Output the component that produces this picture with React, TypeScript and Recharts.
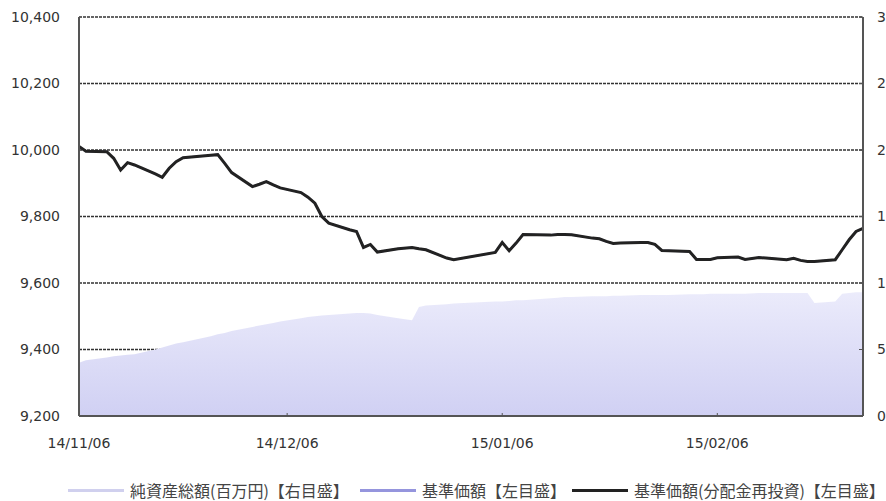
import * as React from "react";
import { ComposedChart, Area, Line, XAxis, YAxis, CartesianGrid, Legend } from "recharts";

// Business days covered by the chart
const dates = [
  "2014-11-06", "2014-11-07", "2014-11-10", "2014-11-11", "2014-11-12", "2014-11-13", "2014-11-14",
  "2014-11-17", "2014-11-18", "2014-11-19", "2014-11-20", "2014-11-21", "2014-11-25", "2014-11-26",
  "2014-11-27", "2014-11-28",
  "2014-12-01", "2014-12-02", "2014-12-03", "2014-12-04", "2014-12-05", "2014-12-08", "2014-12-09",
  "2014-12-10", "2014-12-11", "2014-12-12", "2014-12-15", "2014-12-16", "2014-12-17", "2014-12-18",
  "2014-12-19", "2014-12-22", "2014-12-24", "2014-12-25", "2014-12-26", "2014-12-29", "2014-12-30",
  "2015-01-05", "2015-01-06", "2015-01-07", "2015-01-08", "2015-01-09", "2015-01-13", "2015-01-14",
  "2015-01-15", "2015-01-16", "2015-01-19", "2015-01-20", "2015-01-21", "2015-01-22", "2015-01-23",
  "2015-01-26", "2015-01-27", "2015-01-28", "2015-01-29", "2015-01-30",
  "2015-02-02", "2015-02-03", "2015-02-04", "2015-02-05", "2015-02-06", "2015-02-09", "2015-02-10",
  "2015-02-12", "2015-02-13", "2015-02-16", "2015-02-17", "2015-02-18", "2015-02-19", "2015-02-20",
  "2015-02-23", "2015-02-24", "2015-02-25", "2015-02-26", "2015-02-27",
];

// 純資産総額 (百万円), right scale
const netAssets = [
  40, 42, 44, 45, 45.5, 46, 46.5, 50, 51.5, 53, 54.5, 55.5, 60, 61.5, 62.5, 64,
  67, 68, 69, 70, 71, 73.5, 74.5, 75, 75.5, 76, 77, 77.5, 77.5, 77, 76, 73.5, 72, 82, 83, 84, 84.5,
  86, 86, 86.5, 87, 87, 88.5, 89, 89.5, 89.5, 90, 90, 90, 90.5, 90.5, 91, 91, 91, 91, 91,
  91.5, 91.5, 91.5, 92, 92, 92, 92, 92.5, 92.5, 92.5, 92.5, 92.5, 92.5, 85, 86, 92, 92.5, 93, 93,
];

// 基準価額 (円), left scale
const nav = [
  10011, 9996, 9995, 9975, 9940, 9962, 9955, 9928, 9918, 9945, 9965, 9977, 9984, 9986, 9960, 9932,
  9890, 9897, 9905, 9895, 9886, 9872, 9858, 9840, 9800, 9780, 9760, 9755, 9707, 9716, 9693, 9703,
  9707, 9703, 9700, 9675, 9670,
  9692, 9722, 9697, 9720, 9746, 9744, 9746, 9746, 9745, 9735, 9733, 9725, 9719, 9720, 9722, 9722,
  9716, 9698, 9697,
  9695, 9671, 9671, 9671, 9676, 9678, 9671, 9677, 9675, 9670, 9674, 9668, 9665, 9665, 9670, 9700,
  9730, 9755, 9764,
];

// no distributions in the period, so the reinvested NAV equals the NAV
const navReinvested = [...nav];

const tickDates = ["2014-11-06", "2014-12-06", "2015-01-06", "2015-02-06"];
const tickLabels = ["14/11/06", "14/12/06", "15/01/06", "15/02/06"];
const leftTicks = [9200, 9400, 9600, 9800, 10000, 10200, 10400];
const rightTicks = [0, 50, 100, 150, 200, 250, 300];

const seriesNames = ["純資産総額(百万円)【右目盛】", "基準価額【左目盛】", "基準価額(分配金再投資)【左目盛】"];

const DAY = 86400000;
const start = Date.parse(dates[0]);
const toDay = (d: string) => Math.round((Date.parse(d) - start) / DAY);
const endDay = toDay(dates[dates.length - 1]);

const data = dates.map((d, i) => ({
  day: toDay(d),
  netAssets: netAssets[i],
  nav: nav[i],
  navReinvested: navReinvested[i],
}));

const tickDays = tickDates.map(toDay);

const legendItems = [
  { name: seriesNames[0], color: "#d0d0ee", left: 68 },
  { name: seriesNames[1], color: "#9595dd", left: 360 },
  { name: seriesNames[2], color: "#222222", left: 572 },
];

const tickFont = { fontSize: 14, fill: "#333", fontFamily: "DejaVu Sans" };

const ChartLegend = () => (
  <div style={{ position: "relative", height: 22, fontFamily: "'Noto Sans CJK JP'", fontSize: 16, color: "#444" }}>
    {legendItems.map((it) => (
      <div key={it.name} style={{ position: "absolute", left: it.left, top: 0, display: "flex", alignItems: "center", height: 22 }}>
        <div style={{ width: 56, height: 3, background: it.color, marginRight: 6 }} />
        <span style={{ whiteSpace: "nowrap" }}>{it.name}</span>
      </div>
    ))}
  </div>
);

export default function App() {
  return (
    <div style={{ position: "absolute", left: 0, top: 0, width: 886, height: 501, overflow: "hidden", background: "#fff" }}>
      <ComposedChart width={930} height={501} data={data} margin={{ top: 17, right: 0, bottom: 0, left: 0 }}>
        <defs>
          <linearGradient id="assetFill" x1="0" y1="0" x2="0" y2="1">
            <stop offset="0%" stopColor="#ebebfb" />
            <stop offset="100%" stopColor="#d0d0f3" />
          </linearGradient>
        </defs>
        <CartesianGrid yAxisId="left" vertical={false} stroke="#333" strokeWidth={1.5} strokeDasharray="3 1" />
        <Area yAxisId="right" xAxisId="bottom" dataKey="netAssets" name={seriesNames[0]} type="linear" stroke="none" fill="url(#assetFill)" fillOpacity={1} isAnimationActive={false} />
        <Line yAxisId="left" xAxisId="bottom" dataKey="nav" name={seriesNames[1]} type="linear" stroke="#9595dd" strokeWidth={2} dot={false} isAnimationActive={false} />
        <Line yAxisId="left" xAxisId="bottom" dataKey="navReinvested" name={seriesNames[2]} type="linear" stroke="#222" strokeWidth={3} dot={false} isAnimationActive={false} />
        <XAxis
          xAxisId="bottom"
          dataKey="day"
          type="number"
          domain={[0, endDay]}
          ticks={tickDays}
          tickFormatter={(v: number) => tickLabels[tickDays.indexOf(v)] ?? ""}
          height={85}
          tick={tickFont}
          tickSize={-3}
          tickMargin={25}
          tickLine={{ stroke: "#555" }}
          axisLine={{ stroke: "#555", strokeWidth: 2 }}
        />
        <XAxis xAxisId="top" orientation="top" dataKey="day" type="number" domain={[0, endDay]} height={0} tick={false} tickLine={false} axisLine={{ stroke: "#555", strokeWidth: 2 }} />
        <YAxis
          yAxisId="left"
          domain={[9200, 10400]}
          ticks={leftTicks}
          tickFormatter={(v: number) => v.toLocaleString("en-US")}
          width={79}
          tick={tickFont}
          tickLine={false}
          tickSize={0}
          tickMargin={19}
          axisLine={{ stroke: "#555", strokeWidth: 2 }}
        />
        <YAxis
          yAxisId="right"
          orientation="right"
          domain={[0, 300]}
          ticks={rightTicks}
          width={67}
          tick={tickFont}
          tickSize={-4}
          tickMargin={18}
          tickLine={{ stroke: "#555" }}
          axisLine={{ stroke: "#555", strokeWidth: 2 }}
        />
        <Legend
          layout="horizontal"
          verticalAlign="middle"
          align="center"
          content={<ChartLegend />}
          wrapperStyle={{ position: "absolute", top: 479, left: 0, width: 886 }}
        />
      </ComposedChart>
    </div>
  );
}
